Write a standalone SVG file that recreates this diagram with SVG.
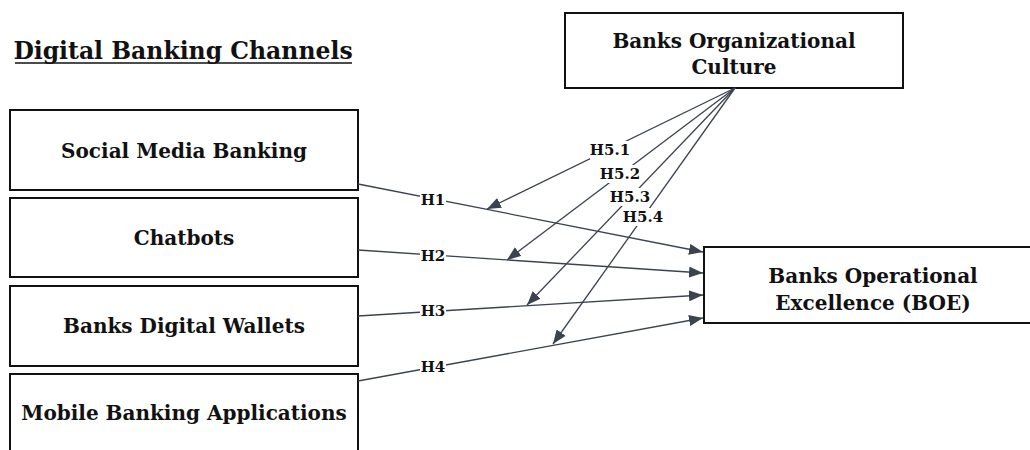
<svg xmlns="http://www.w3.org/2000/svg" width="1030" height="450" viewBox="0 0 1030 450">
<style>
.box{fill:#fff;stroke:#111;stroke-width:2}
.t{font-family:"DejaVu Serif","Liberation Serif",serif;font-weight:bold;fill:#111;text-anchor:middle}
.nt{font-size:20px}
.lbl{font-size:15px}
.edge{fill:none;stroke:#3c4350;stroke-width:1.3}
.bg{fill:#fff}
</style>
<defs>
<marker id="arr" viewBox="0 0 14 11" refX="14" refY="5.5" markerWidth="14" markerHeight="11" markerUnits="userSpaceOnUse" orient="auto">
<path d="M0,0 L14,5.5 L0,11 Z" fill="#3c4350"/>
</marker>
</defs>
<g id="title">
<text class="t" x="183" y="59" font-size="23.5px">Digital Banking Channels</text>
<line x1="15" y1="63" x2="352" y2="63" stroke="#111" stroke-width="1.5"/>
</g>
<g id="n-social">
<rect class="box" x="10" y="110" width="348" height="80"/>
<text class="t nt" x="184" y="158">Social Media Banking</text>
</g>
<g id="n-chatbots">
<rect class="box" x="10" y="198" width="348" height="79"/>
<text class="t nt" x="184" y="245">Chatbots</text>
</g>
<g id="n-wallets">
<rect class="box" x="10" y="286" width="348" height="80"/>
<text class="t nt" x="184" y="333">Banks Digital Wallets</text>
</g>
<g id="n-mobile">
<rect class="box" x="10" y="374" width="348" height="90"/>
<text class="t nt" x="184" y="420">Mobile Banking Applications</text>
</g>
<g id="n-culture">
<rect class="box" x="565" y="13" width="338" height="75"/>
<text class="t nt" x="734" y="48">Banks Organizational</text>
<text class="t nt" x="734" y="74">Culture</text>
</g>
<g id="n-boe">
<rect class="box" x="704" y="247" width="340" height="76"/>
<text class="t nt" x="873" y="283">Banks Operational</text>
<text class="t nt" x="873" y="310">Excellence (BOE)</text>
</g>
<g id="connectors">
<line class="edge" x1="358" y1="184" x2="703" y2="252" marker-end="url(#arr)"/>
<line class="edge" x1="358" y1="250" x2="703" y2="273" marker-end="url(#arr)"/>
<line class="edge" x1="358" y1="316" x2="703" y2="295" marker-end="url(#arr)"/>
<line class="edge" x1="358" y1="381" x2="703" y2="318" marker-end="url(#arr)"/>
<line class="edge" x1="735" y1="88" x2="487" y2="209" marker-end="url(#arr)"/>
<line class="edge" x1="735" y1="88" x2="507" y2="260" marker-end="url(#arr)"/>
<line class="edge" x1="735" y1="88" x2="527" y2="305" marker-end="url(#arr)"/>
<line class="edge" x1="735" y1="88" x2="553" y2="344" marker-end="url(#arr)"/>
<rect class="bg" x="420" y="191" width="26" height="18"/>
<text class="t lbl" x="433" y="205">H1</text>
<rect class="bg" x="420" y="247" width="26" height="18"/>
<text class="t lbl" x="433" y="261">H2</text>
<rect class="bg" x="420" y="302" width="26" height="18"/>
<text class="t lbl" x="433" y="316">H3</text>
<rect class="bg" x="420" y="358" width="26" height="18"/>
<text class="t lbl" x="433" y="372">H4</text>
<rect class="bg" x="590" y="141" width="40" height="18"/>
<text class="t lbl" x="610" y="155">H5.1</text>
<rect class="bg" x="600" y="165" width="40" height="18"/>
<text class="t lbl" x="620" y="179">H5.2</text>
<rect class="bg" x="610" y="188" width="40" height="18"/>
<text class="t lbl" x="630" y="202">H5.3</text>
<rect class="bg" x="623" y="208" width="40" height="18"/>
<text class="t lbl" x="643" y="222">H5.4</text>
</g>
</svg>
